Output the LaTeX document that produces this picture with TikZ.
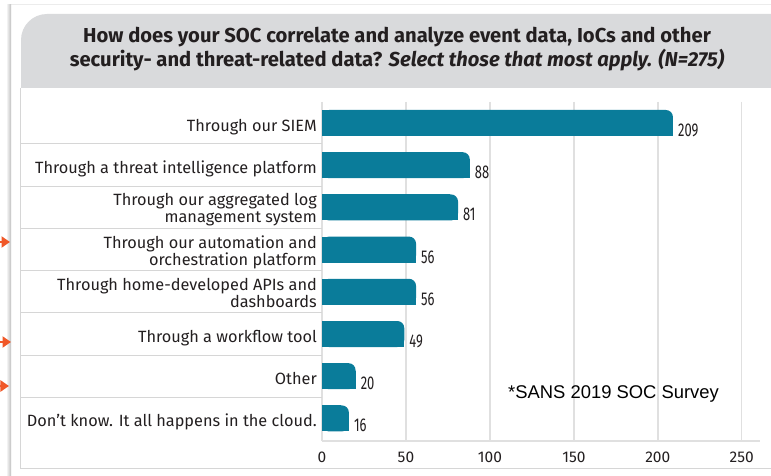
\documentclass[tikz,border=0pt]{standalone}
\usepackage{fontspec}
\setmainfont{Fira Sans}
\newfontfamily\arialfont{Liberation Sans}
\usetikzlibrary{arrows.meta}

\definecolor{headgray}{RGB}{217,218,220}
\definecolor{gridgray}{RGB}{224,224,224}
\definecolor{rulegray}{RGB}{214,214,214}
\definecolor{barteal}{RGB}{10,124,154}
\definecolor{inkdark}{RGB}{35,31,32}
\definecolor{markorange}{RGB}{240,88,40}

\begin{document}
\begin{tikzpicture}[x=1pt,y=-1pt,
  titletext/.style={font=\fontsize{20.2}{24}\selectfont\bfseries, text=inkdark, inner sep=0, anchor=base},
  rowlabel/.style={font=\fontsize{16.3}{17}\selectfont, text=inkdark, inner sep=0, anchor=base east},
  valtext/.style={font=\fontsize{18.5}{18}\selectfont, text=inkdark, inner sep=0, anchor=base west},
  ticktext/.style={font=\fontsize{15.5}{15}\selectfont, text=inkdark, inner sep=0, anchor=base},
  gridline/.style={gridgray, line width=1.4pt},
  rowrule/.style={rulegray, line width=1pt},
  pointer/.style={markorange, line width=2.4pt, -{Triangle[length=8.5pt,width=11pt]}},
]
\useasboundingbox (0,0) rectangle (771,476);
\clip (0,0) rectangle (771,476);
\fill[white] (0,0) rectangle (771,476);

% card edge and shadow
\draw[gray!15, line width=1pt] (10,5) -- (771,5);
\shade[left color=white, right color=gray!50] (6,5) rectangle (11,476);

% header band with rounded top-left corner
\fill[headgray, rounded corners=26] (21,14) rectangle (800,88);
\fill[headgray] (21,60) rectangle (800,88);

% panel frame
\draw[rowrule] (20.5,88) -- (20.5,468) -- (771,468);

% title
\node[titletext] (t1) at (397,43) {How does your SOC correlate and analyze event data, IoCs and other};
\node[titletext] (t2) at (397,67) {security- and threat-related data? \itshape Select those that most apply. (N=275)};

% grid
\foreach \g in {50,100,150,200,250} {
  \draw[gridline] (322+1.679*\g,102) -- (322+1.679*\g,441);
}
\draw[gridline] (322,102) -- (322,441);
\draw[gridline] (322,441) -- (760,441);

% row separators
\foreach \k in {0,...,6} {
  \draw[rowrule] (21,144+42.2*\k) -- (322,144+42.2*\k);
}

% bars with values
\foreach \v [count=\k from 0] in {209,88,81,56,56,49,20,16} {
  \pgfmathsetmacro\c{123+42.2*\k}
  \pgfmathsetmacro\xe{322+1.679*\v}
  \fill[barteal, rounded corners=7] (322,\c-13) rectangle (\xe,\c+13);
  \fill[barteal] (322,\c-13) rectangle (\xe-8,\c+13);
  \fill[barteal] (322,\c-5) rectangle (\xe,\c+13);
  \node[valtext] (val\k) at (\xe+5,\c+13.5) {\scalebox{0.7}[1]{\v}};
}

% row labels
\node[rowlabel] (r1)  at (317,123+8.3)          {Through our SIEM};
\node[rowlabel] (r2)  at (317,165.2+8.3)        {Through a threat intelligence platform};
\node[rowlabel] (r3a) at (317,207.4-1.5)        {Through our aggregated log};
\node[rowlabel] (r3b) at (317,207.4+15.5)       {management system};
\node[rowlabel] (r4a) at (317,249.6-1.5)        {Through our automation and};
\node[rowlabel] (r4b) at (317,249.6+15.5)       {orchestration platform};
\node[rowlabel] (r5a) at (317,291.8-1.5)        {Through home-developed APIs and};
\node[rowlabel] (r5b) at (317,291.8+15.5)       {dashboards};
\node[rowlabel] (r6)  at (317,334+8.3)          {Through a workflow tool};
\node[rowlabel] (r7)  at (317,376.2+8.3)        {Other};
\node[rowlabel] (r8)  at (317,418.4+8.3)        {Don’t know. It all happens in the cloud.};

% axis ticks
\foreach \g in {0,50,100,150,200,250} {
  \node[ticktext] (tick\g) at (322+1.679*\g,462) {\g};
}

% source note
\node[font=\arialfont\fontsize{18.4}{18}\selectfont, text=black, inner sep=0, anchor=base west] (src) at (508,398) {*SANS 2019 SOC Survey};

% pointers entering from the left
\coordinate (p1s) at (-14,242); \coordinate (p1e) at (10,242);
\coordinate (p2s) at (-14,342); \coordinate (p2e) at (11,342);
\coordinate (p3s) at (-14,386); \coordinate (p3e) at (9,386);
\draw[pointer] (p1s) -- (p1e);
\draw[pointer] (p2s) -- (p2e);
\draw[pointer] (p3s) -- (p3e);
\end{tikzpicture}
\end{document}
